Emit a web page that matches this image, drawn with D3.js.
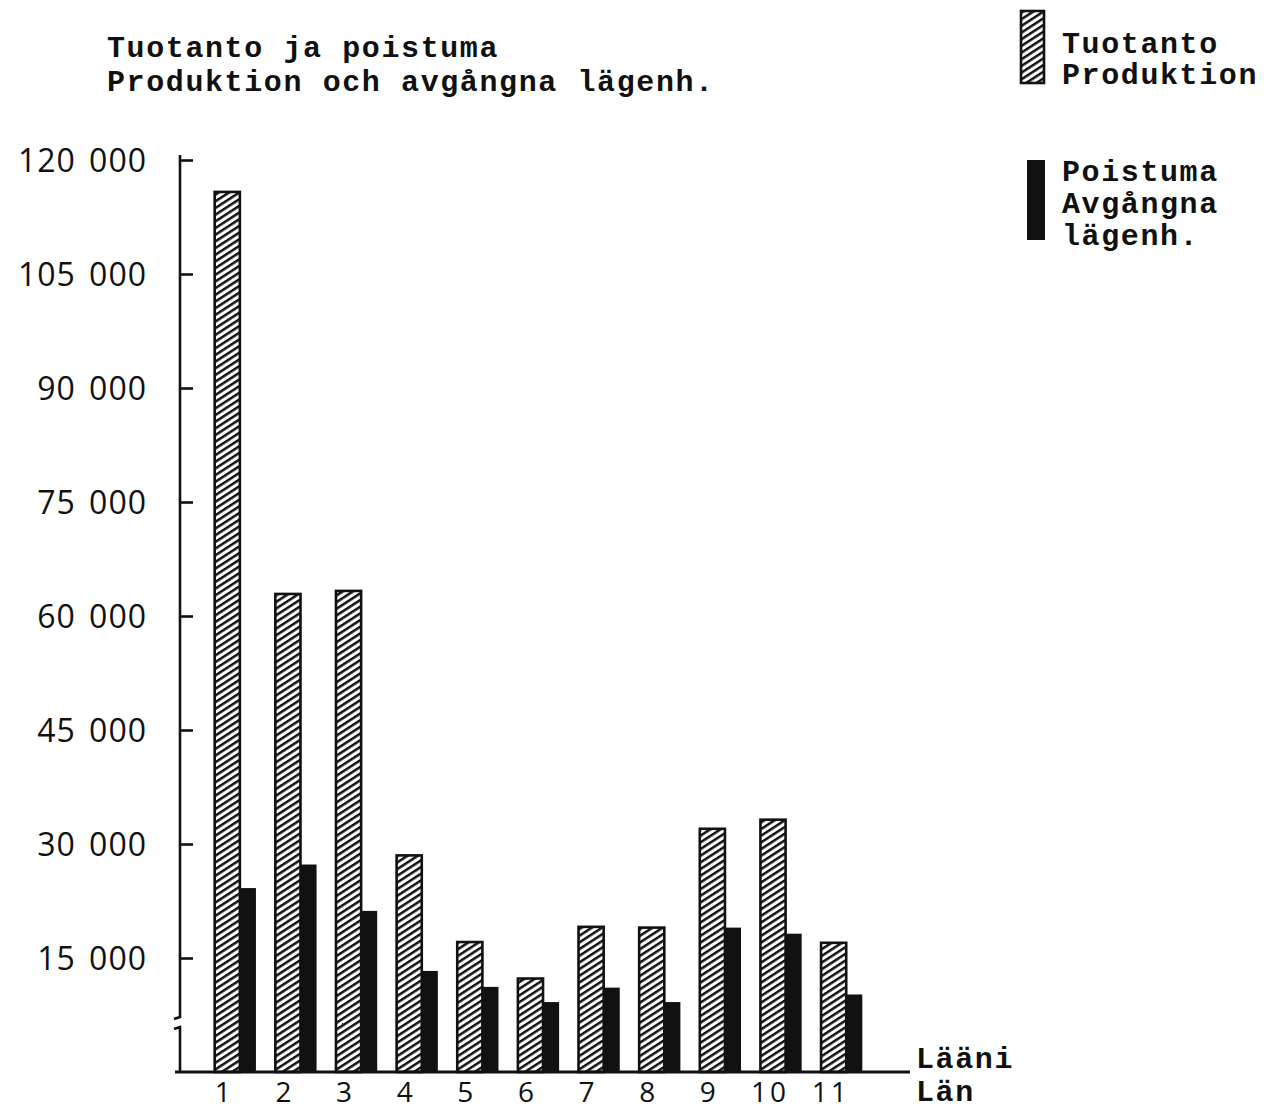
<!DOCTYPE html>
<html>
<head>
<meta charset="utf-8">
<script src="https://cdn.jsdelivr.net/npm/d3@7"></script>
<style>
	html, body { margin: 0; padding: 0; background: #fff; }
</style>
</head>
<body>
<div class="bar-chart"></div>
<script>
var ink = '#111',
	typeFont = '"Liberation Mono", "DejaVu Sans Mono", monospace',
	typeSize = '30px',
	typeSpacing = '1.6px',
	numFont = '"Open Sans", "DejaVu Sans", sans-serif';

// Lääni / Län
var laani = ['1', '2', '3', '4', '5', '6', '7', '8', '9', '10', '11'];
// Tuotanto / Produktion
var tuotanto = [115800, 62900, 63300, 28500, 17100, 12300, 19100, 19000, 32000, 33200, 17000];
// Poistuma / Avgångna lägenh.
var poistuma = [24200, 27300, 21200, 13300, 11200, 9200, 11100, 9200, 19000, 18200, 10200];
var yTicks = [15000, 30000, 45000, 60000, 75000, 90000, 105000, 120000];
var yTickLabels = ['15 000', '30 000', '45 000', '60 000', '75 000', '90 000', '105 000', '120 000'];
var titleLines = ['Tuotanto ja poistuma', 'Produktion och avgångna lägenh.'];
var legendProd = ['Tuotanto', 'Produktion'];
var legendPoist = ['Poistuma', 'Avgångna', 'lägenh.'];
var xLabel = ['Lääni', 'Län'];

var width = 1267, height = 1109;
var axisX = 180;

var x = d3.scaleBand().domain(laani).range([205, 872]).paddingInner(0.32).paddingOuter(0.16);
var y = d3.scaleLinear().domain([0, 120000]).range([1072, 160]);
var hatchW = x.bandwidth() * 0.61,
	blackW = x.bandwidth() - hatchW;

var svg = d3.select('.bar-chart').append('svg')
	.attr('width', width)
	.attr('height', height)
	.attr('fill', ink);

// Diagonal hatching for the production bars.
svg.append('defs').append('pattern')
	.attr('id', 'hatch')
	.attr('patternUnits', 'userSpaceOnUse')
	.attr('width', 6)
	.attr('height', 5.6)
	.attr('patternTransform', 'rotate(-33)')
	.append('rect')
		.attr('x', 0)
		.attr('y', 0)
		.attr('width', 6)
		.attr('height', 2.5)
		.attr('fill', ink);

// Title, typed.
svg.append('g').selectAll('text')
	.data(titleLines)
	.join('text')
		.attr('x', 107)
		.attr('y', function(d, i) { return 57 + i * 34; })
		.attr('font-family', typeFont)
		.attr('font-weight', 'bold')
		.attr('font-size', typeSize)
		.attr('letter-spacing', typeSpacing)
		.text(function(d) { return d; });

// Bars: hatched production, black removals right next to it.
var groups = svg.append('g').selectAll('g')
	.data(laani)
	.join('g')
		.attr('transform', function(d) { return 'translate(' + x(d) + ',0)'; });
groups.append('rect')
	.attr('x', 0)
	.attr('y', function(d, i) { return y(tuotanto[i]); })
	.attr('width', hatchW)
	.attr('height', function(d, i) { return y(0) - y(tuotanto[i]); })
	.attr('fill', 'url(#hatch)')
	.attr('stroke', ink)
	.attr('stroke-width', 2.6);
groups.append('rect')
	.attr('x', hatchW)
	.attr('y', function(d, i) { return y(poistuma[i]); })
	.attr('width', blackW)
	.attr('height', function(d, i) { return y(0) - y(poistuma[i]); })
	.attr('fill', ink);

// Category labels under the bars.
svg.append('g').selectAll('text')
	.data(laani)
	.join('text')
		.attr('x', function(d) { return x(d) + hatchW / 2 - 3; })
		.attr('y', 1102)
		.attr('text-anchor', 'middle')
		.attr('font-family', numFont)
		.attr('font-size', '28px')
		.attr('letter-spacing', '3px')
		.text(function(d) { return d; });

// Y axis with ticks, and a break just above zero.
svg.append('g')
	.attr('transform', 'translate(' + axisX + ',0)')
	.call(d3.axisRight(y).tickValues(yTicks).tickSize(13).tickSizeOuter(0).tickFormat(''))
	.call(function(g) {
		g.select('.domain').remove();
		g.selectAll('.tick line').attr('stroke', ink).attr('stroke-width', 2.6);
	});
var axisLine = svg.append('g')
	.attr('stroke', ink)
	.attr('stroke-width', 2.6)
	.attr('fill', 'none');
axisLine.append('path').attr('d', 'M' + axisX + ',' + (y(120000) - 5) + 'V' + (y(0) - 55) + 'l-6,2');
axisLine.append('path').attr('d', 'M' + (axisX - 6) + ',' + (y(0) - 43) + 'l6,-2V' + y(0));
axisLine.append('path')
	.attr('d', 'M' + (axisX - 5) + ',' + y(0) + 'H' + 910)
	.attr('stroke-width', 3.2);

svg.append('g').selectAll('text')
	.data(yTicks)
	.join('text')
		.attr('x', 147)
		.attr('y', function(d) { return y(d) + 12; })
		.attr('text-anchor', 'end')
		.attr('font-family', numFont)
		.attr('font-size', '32px')
		.attr('letter-spacing', '1px')
		.attr('word-spacing', '4px')
		.text(function(d, i) { return yTickLabels[i]; });

// Axis name at the end of the baseline.
svg.append('g').selectAll('text')
	.data(xLabel)
	.join('text')
		.attr('x', 916)
		.attr('y', function(d, i) { return 1068 + i * 33; })
		.attr('font-family', typeFont)
		.attr('font-weight', 'bold')
		.attr('font-size', typeSize)
		.attr('letter-spacing', typeSpacing)
		.text(function(d) { return d; });

// Legend.
var legend = svg.append('g');
legend.append('rect')
	.attr('x', 1021)
	.attr('y', 11)
	.attr('width', 23)
	.attr('height', 72)
	.attr('fill', 'url(#hatch)')
	.attr('stroke', ink)
	.attr('stroke-width', 2.6);
legend.selectAll('text.prod')
	.data(legendProd)
	.join('text')
		.attr('class', 'prod')
		.attr('x', 1062)
		.attr('y', function(d, i) { return 53 + i * 31; })
		.attr('font-family', typeFont)
		.attr('font-weight', 'bold')
		.attr('font-size', typeSize)
		.attr('letter-spacing', typeSpacing)
		.text(function(d) { return d; });
legend.append('rect')
	.attr('x', 1027)
	.attr('y', 160)
	.attr('width', 18)
	.attr('height', 80)
	.attr('fill', ink);
legend.selectAll('text.poist')
	.data(legendPoist)
	.join('text')
		.attr('class', 'poist')
		.attr('x', 1062)
		.attr('y', function(d, i) { return 181 + i * 32; })
		.attr('font-family', typeFont)
		.attr('font-weight', 'bold')
		.attr('font-size', typeSize)
		.attr('letter-spacing', typeSpacing)
		.text(function(d) { return d; });
</script>
</body>
</html>
